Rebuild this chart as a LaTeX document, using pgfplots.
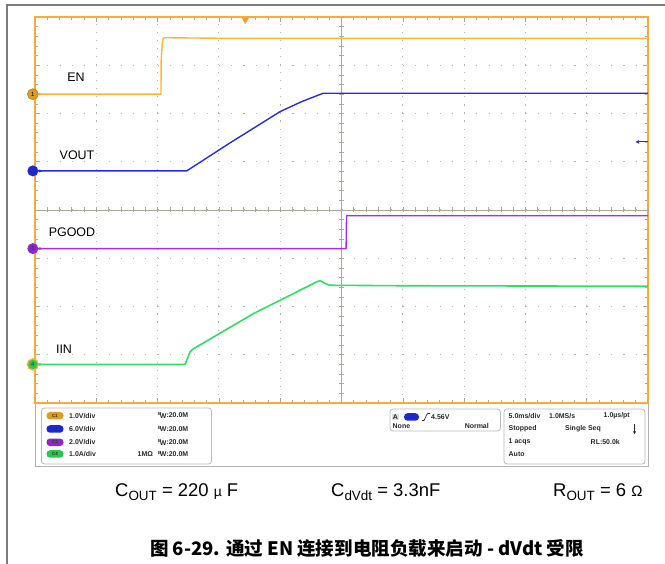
\documentclass[border=0pt]{standalone}
\usepackage{pgfplots}
\pgfplotsset{compat=1.18}
\usepackage{fontspec}
\setmainfont{Liberation Sans}
\newfontfamily\cjk{Noto Sans CJK SC}
\usetikzlibrary{arrows.meta}
\definecolor{scopeor}{RGB}{245,172,60}
\definecolor{enor}{RGB}{250,182,50}
\definecolor{vblue}{RGB}{35,45,225}
\definecolor{pgpur}{RGB}{165,45,235}
\definecolor{igreen}{RGB}{45,225,95}
\definecolor{gridc}{RGB}{175,168,150}
\definecolor{dotc}{RGB}{180,180,180}
\definecolor{framec}{RGB}{125,125,125}
\definecolor{bc1}{RGB}{225,155,30}
\definecolor{bc2}{RGB}{30,40,215}
\definecolor{bc3}{RGB}{140,40,200}
\definecolor{bc4}{RGB}{40,200,80}
\definecolor{ptext}{RGB}{40,40,40}

\pgfplotstableread{
x y
0 6.40
2.055 6.40
2.058 7.10
2.075 7.42
2.09 7.56
2.12 7.57
3 7.56
6 7.56
10 7.56
}\entable
\pgfplotstableread{
x y
0 4.81
2.475 4.81
3.18 5.39
4.00 6.04
4.34 6.24
4.70 6.42
10 6.42
}\vouttable
\pgfplotstableread{
x y
0 3.20
5.075 3.20
5.082 3.88
10 3.88
}\pgtable
\pgfplotstableread{
x y
0 0.80
2.447 0.80
2.49 0.93
2.53 1.06
2.58 1.12
3.56 1.85
4.595 2.51
4.65 2.535
4.73 2.48
4.81 2.44
6 2.43
10 2.42
}\iintable

\newcommand\bw{\raisebox{2bp}{\fontsize{4.5}{5}\selectfont B}\kern-1.5bp\raisebox{-0.5bp}{W}:20.0M}

\begin{document}
\begin{tikzpicture}[x=1bp,y=1bp]
\path[use as bounding box] (0,0) rectangle (665,564);
\draw[framec, line width=1.5bp] (665,559) -- (7,559) -- (7,0);
% lower info panel
\draw[gray!60, line width=0.8bp] (35,161) rectangle (648,98);
\tikzset{ptxt/.style={font=\fontsize{7}{8}\selectfont\bfseries, text=ptext, inner sep=0pt},
  badge/.style={rounded corners=3.5bp, minimum width=17bp, minimum height=7.5bp, inner sep=0pt, font=\fontsize{4.5}{5}\selectfont\bfseries, text=black!80}}
\draw[gray!55, line width=0.8bp, rounded corners=3bp] (41.5,156) rectangle (211.5,100);
\node[badge, fill=bc1] at (55,148.3) {C1};
\node[badge, fill=bc2] at (55,135) {C2};
\node[badge, fill=bc3] at (55,121.7) {C3};
\node[badge, fill=bc4] at (55,110) {C4};
\node[ptxt, anchor=west] at (69,148.3) {1.0V/div};
\node[ptxt, anchor=west] at (69,135) {6.0V/div};
\node[ptxt, anchor=west] at (69,121.7) {2.0V/div};
\node[ptxt, anchor=west] at (69,110) {1.0A/div};
\node[ptxt, anchor=west] at (158,148.3) {\bw};
\node[ptxt, anchor=west] at (158,135) {\bw};
\node[ptxt, anchor=west] at (158,121.7) {\bw};
\node[ptxt, anchor=west] at (158,110) {\bw};
\node[ptxt, anchor=west] at (137.5,110) {1MΩ};
% trigger box
\draw[gray!55, line width=0.8bp, rounded corners=3bp] (390,155) rectangle (500.5,133);
\node[ptxt, fill=gray!25, inner sep=1bp, anchor=center] at (395.5,147) {A};
\node[badge, fill=bc2, minimum width=15bp] at (411.5,147) {C2};
\draw[ptext, line width=0.7bp] (422,143.5) -- (424,143.5) .. controls (426,146) and (426,150) .. (428,150.5) -- (430,150.5);
\node[ptxt, anchor=west] at (431,147) {4.56V};
\node[ptxt, anchor=west] at (392.5,138) {None};
\node[ptxt, anchor=east] at (489,138) {Normal};
% timebase box
\draw[gray!55, line width=0.8bp, rounded corners=3bp] (504,155) rectangle (645,100);
\node[ptxt, anchor=west] at (508.5,148.3) {5.0ms/div};
\node[ptxt, anchor=west] at (549,148.3) {1.0MS/s};
\node[ptxt, anchor=east] at (630,148.3) {1.0µs/pt};
\node[ptxt, anchor=west] at (508.5,135) {Stopped};
\node[ptxt, anchor=east] at (601,135) {Single Seq};
\draw[-{Latex[length=3bp,width=3bp]}, line width=1.1bp, ptext] (634.5,140) -- (634.5,129.5);
\node[ptxt, anchor=west] at (508.5,121.7) {1 acqs};
\node[ptxt, anchor=east] at (620,121.7) {RL:50.0k};
\node[ptxt, anchor=west] at (508.5,110) {Auto};
% component values
\node[anchor=base west, inner sep=0pt, font=\fontsize{18.5}{20}\selectfont] at (115,67) {C\raisebox{-3.5bp}{\fontsize{13.5}{14}\selectfont OUT} = 220 {\fontsize{14}{14}\selectfont µ} F};
\node[anchor=base west, inner sep=0pt, font=\fontsize{18.5}{20}\selectfont] at (331,67) {C\raisebox{-3.5bp}{\fontsize{13.5}{14}\selectfont dVdt} = 3.3nF};
\node[anchor=base west, inner sep=0pt, font=\fontsize{18.5}{20}\selectfont] at (553,67) {R\raisebox{-3.5bp}{\fontsize{13.5}{14}\selectfont OUT} = 6 {\fontsize{15}{15}\selectfont Ω}};
% caption
\node[anchor=center, inner sep=0pt, font=\cjk\bfseries\fontsize{18.6}{20}\selectfont] at (367,15) {图 6-29. 通过 EN 连接到电阻负载来启动 - dVdt 受限};

\begin{axis}[at={(35bp,161bp)}, anchor=south west,
  width=613bp, height=386bp, scale only axis,
  xmin=0, xmax=10, ymin=0, ymax=8,
  xtick={0,...,10}, ytick={0,...,8},
  minor x tick num=4, minor y tick num=4,
  xticklabels={}, yticklabels={},
  tick align=inside, tick pos=both,
  major tick length=5bp, minor tick length=3bp,
  tick style={gridc, line width=0.6bp},
  grid=major,
  major x grid style={dotc, line width=1.1bp, line cap=butt, dash pattern=on 1.1bp off 6.94bp},
  major y grid style={dotc, line width=1.1bp, line cap=butt, dash pattern=on 1.1bp off 11.16bp},
  axis line style={scopeor, line width=2bp},
  clip=false]
% center crosshair
\draw[gridc, line width=0.8bp] (axis cs:0,4) -- (axis cs:10,4);
\draw[gridc, line width=0.8bp] (axis cs:5,0) -- (axis cs:5,8);
\pgfplotsinvokeforeach{0.2,0.4,...,9.9}{\draw[gridc, line width=0.6bp] (axis cs:#1,4) ++(0,-2.5bp) -- ++(0,5bp);}
\pgfplotsinvokeforeach{0.2,0.4,...,7.9}{\draw[gridc, line width=0.6bp] (axis cs:5,#1) ++(-2.5bp,0) -- ++(5bp,0);}
% traces
\addplot[enor, line width=1.4bp, line join=round] table {\entable};
\addplot[vblue, line width=1.4bp, line join=round] table {\vouttable};
\addplot[pgpur, line width=1.4bp, line join=round] table {\pgtable};
\addplot[igreen, line width=1.6bp, line join=round] table {\iintable};
% labels
\node[font=\fontsize{12.5}{13}\selectfont] at (axis cs:0.669,6.76) {EN};
\node[font=\fontsize{12.5}{13}\selectfont] at (axis cs:0.685,5.14) {VOUT};
\node[font=\fontsize{12.5}{13}\selectfont] at (axis cs:0.603,3.54) {PGOOD};
\node[font=\fontsize{12.5}{13}\selectfont] at (axis cs:0.473,1.12) {IIN};
% channel markers
\draw[-{Latex[length=3bp,width=3.5bp]}, enor, line width=1bp] (axis cs:0,6.40) -- (axis cs:0.12,6.40);
\draw[-{Latex[length=3bp,width=3.5bp]}, vblue, line width=1bp] (axis cs:0,4.81) -- (axis cs:0.12,4.81);
\draw[-{Latex[length=3bp,width=3.5bp]}, pgpur, line width=1bp] (axis cs:0,3.20) -- (axis cs:0.12,3.20);
\draw[-{Latex[length=3bp,width=3.5bp]}, igreen, line width=1bp] (axis cs:0,0.80) -- (axis cs:0.12,0.80);
\node[circle, fill=bc1, draw=scopeor!70!black, line width=0.5bp, minimum size=11bp, inner sep=0pt, font=\fontsize{6}{6}\selectfont] at (axis cs:-0.035,6.40) {1};
\node[circle, fill=bc2, minimum size=11bp, inner sep=0pt, font=\fontsize{6}{6}\selectfont, text=black!80] at (axis cs:-0.035,4.81) {2};
\node[circle, fill=bc3, minimum size=11bp, inner sep=0pt, font=\fontsize{6}{6}\selectfont, text=black!80] at (axis cs:-0.035,3.20) {3};
\node[circle, fill=bc4, draw=scopeor, line width=1.3bp, minimum size=11bp, inner sep=0pt, font=\fontsize{6}{6}\selectfont, text=black!80] at (axis cs:-0.035,0.80) {4};
% trigger position and level markers
\fill[scopeor!90!red] (axis cs:3.43,8) ++(-3.5bp,-1bp) -- ++(7bp,0) -- ++(-3.5bp,-6bp) -- cycle;
\draw[-{Latex[length=4bp,width=4bp]}, vblue, line width=1bp] (axis cs:10,5.41) -- (axis cs:9.79,5.41);
\end{axis}
\end{tikzpicture}
\end{document}
